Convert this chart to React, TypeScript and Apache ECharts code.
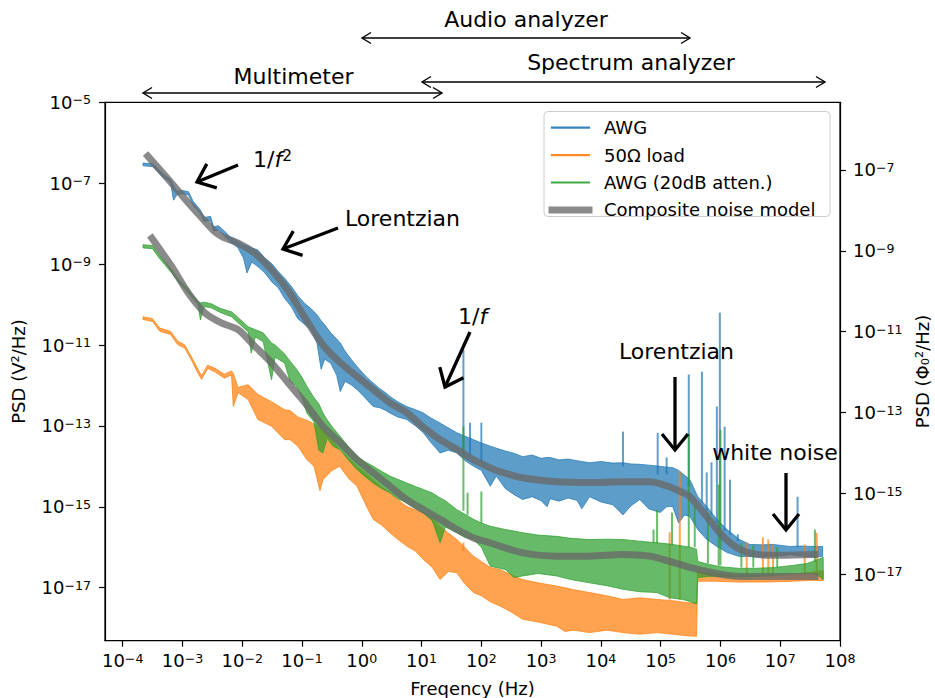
import React, { useEffect, useRef } from "react";
import * as echarts from "echarts";

const FONT = "DejaVu Sans";
const MINUS = "\u2212";

// Decade ticks (log10 of the plotted quantity)
const FREQ_TICKS = [-4, -3, -2, -1, 0, 1, 2, 3, 4, 5, 6, 7, 8];
const PSD_V_TICKS = [-17, -15, -13, -11, -9, -7, -5];
const PSD_PHI_TICKS = [-17, -15, -13, -11, -9, -7];

// Axis extents in decades
const FREQ_MIN = -4.296;
const FREQ_MAX = 8;
const PSD_V_MIN = -18.31;
const PSD_V_MAX = -5;
// log10 shift from V^2/Hz to Phi0^2/Hz
const PHI_SHIFT = -0.328;

// Measured spectra: [log10 f, upper log10 PSD, lower log10 PSD]
const AWG_BAND = [
  [-3.66, -6.5, -6.57], [-3.5, -6.52, -6.59], [-3.4, -6.66, -6.74], [-3.3, -6.8, -6.88],
  [-3.2, -6.9, -6.98], [-3.15, -7.05, -7.42], [-3.09, -7.2, -7.28], [-3.0, -7.18, -7.26],
  [-2.9, -7.21, -7.29], [-2.82, -7.45, -7.54], [-2.7, -7.66, -7.75], [-2.64, -7.85, -7.94],
  [-2.53, -7.82, -7.92], [-2.48, -8.08, -8.18], [-2.4, -8.05, -8.16], [-2.3, -8.18, -8.3],
  [-2.2, -8.33, -8.46], [-2.08, -8.42, -8.58], [-1.98, -8.52, -8.85], [-1.92, -8.55, -9.22],
  [-1.84, -8.6, -8.95], [-1.74, -8.65, -9.06], [-1.62, -8.85, -9.22], [-1.5, -9.0, -9.45],
  [-1.4, -9.18, -9.58], [-1.29, -9.35, -9.85], [-1.18, -9.55, -10.05], [-1.07, -9.78, -10.35],
  [-0.95, -9.98, -10.5], [-0.85, -10.1, -10.62], [-0.75, -10.25, -10.95], [-0.68, -10.4, -11.6],
  [-0.62, -10.5, -11.35], [-0.52, -10.7, -11.45], [-0.42, -10.85, -11.75], [-0.36, -10.95, -12.15],
  [-0.28, -11.15, -11.9], [-0.18, -11.35, -11.98], [-0.08, -11.53, -12.1], [0.02, -11.7, -12.25],
  [0.1, -11.82, -12.38], [0.19, -11.94, -12.52], [0.3, -12.08, -12.55], [0.4, -12.18, -12.62],
  [0.47, -12.27, -12.68], [0.6, -12.4, -12.78], [0.75, -12.52, -12.84], [0.9, -12.6, -13.0],
  [1.03, -12.68, -13.17], [1.15, -12.8, -13.4], [1.31, -12.93, -13.67], [1.45, -13.05, -13.6],
  [1.59, -13.17, -13.67], [1.72, -13.25, -13.85], [1.87, -13.34, -14.0], [2.0, -13.42, -14.1],
  [2.15, -13.5, -14.49], [2.25, -13.55, -14.24], [2.4, -13.62, -14.55], [2.55, -13.68, -14.7],
  [2.69, -13.76, -14.82], [2.85, -13.72, -14.75], [3.0, -13.8, -14.85], [3.1, -13.78, -15.0],
  [3.15, -13.78, -14.8], [3.3, -13.84, -14.86], [3.45, -13.82, -14.78], [3.6, -13.86, -14.84],
  [3.68, -13.88, -15.05], [3.81, -13.91, -14.75], [4.0, -13.88, -14.88], [4.2, -13.92, -14.95],
  [4.37, -13.91, -15.2], [4.5, -13.94, -14.98], [4.65, -13.95, -14.82], [4.8, -13.97, -15.05],
  [4.99, -14.0, -15.14], [5.1, -14.02, -15.0], [5.2, -14.03, -14.99], [5.3, -14.1, -15.4],
  [5.4, -14.22, -15.2], [5.49, -14.33, -15.24], [5.62, -14.75, -15.56], [5.77, -14.99, -15.81],
  [5.94, -15.31, -15.98], [6.11, -15.56, -16.13], [6.32, -15.81, -16.23], [6.49, -15.93, -16.23],
  [6.7, -15.94, -16.24], [6.88, -15.93, -16.23], [7.05, -15.96, -16.21], [7.16, -15.98, -16.18],
  [7.35, -15.97, -16.22], [7.55, -15.98, -16.24], [7.71, -15.98, -16.23],
];

const LOAD_BAND = [
  [-3.66, -10.3, -10.37], [-3.5, -10.35, -10.42], [-3.38, -10.58, -10.66], [-3.2, -10.66, -10.74],
  [-3.08, -10.9, -10.99], [-2.96, -11.0, -11.08], [-2.84, -11.32, -11.4], [-2.74, -11.6, -11.7],
  [-2.68, -11.76, -11.85], [-2.58, -11.5, -11.58], [-2.46, -11.57, -11.66], [-2.3, -11.72, -11.82],
  [-2.18, -11.64, -11.74], [-2.15, -11.7, -12.52], [-2.07, -12.05, -12.18], [-1.9, -11.98, -12.35],
  [-1.74, -12.22, -12.84], [-1.51, -12.4, -13.01], [-1.29, -12.6, -13.34], [-1.2, -12.62, -13.34],
  [-1.07, -12.78, -13.5], [-0.92, -12.86, -13.83], [-0.8, -12.95, -14.0], [-0.7, -13.05, -14.6],
  [-0.65, -13.09, -14.33], [-0.5, -13.35, -14.1], [-0.37, -13.59, -14.0], [-0.22, -13.8, -14.3],
  [-0.08, -14.0, -14.49], [0.05, -14.15, -14.9], [0.19, -14.33, -15.31], [0.33, -14.5, -15.45],
  [0.47, -14.65, -15.64], [0.6, -14.82, -15.8], [0.75, -14.99, -15.97], [0.9, -15.08, -16.1],
  [1.03, -15.15, -16.3], [1.18, -15.3, -16.5], [1.31, -15.48, -16.8], [1.45, -15.65, -16.6],
  [1.59, -15.81, -16.63], [1.72, -16.0, -16.9], [1.87, -16.22, -17.12], [2.0, -16.35, -17.2],
  [2.15, -16.5, -17.35], [2.31, -16.55, -17.45], [2.5, -16.68, -17.6], [2.69, -16.8, -17.78],
  [2.95, -16.88, -17.85], [3.26, -16.96, -17.95], [3.4, -17.0, -18.08], [3.55, -17.05, -18.05],
  [3.81, -17.12, -18.11], [4.1, -17.2, -18.05], [4.37, -17.29, -18.11], [4.65, -17.25, -18.15],
  [4.94, -17.29, -18.11], [5.2, -17.32, -18.15], [5.44, -17.37, -18.19], [5.6, -17.38, -18.2],
  [5.62, -16.6, -16.84], [5.9, -16.65, -16.84], [6.3, -16.7, -16.86], [6.8, -16.7, -16.86],
  [7.2, -16.68, -16.84], [7.5, -16.62, -16.82], [7.72, -16.58, -16.82],
];

const ATTEN_BAND = [
  [-3.66, -8.52, -8.6], [-3.5, -8.54, -8.62], [-3.4, -8.75, -8.83], [-3.3, -8.93, -9.01],
  [-3.18, -9.14, -9.22], [-3.05, -9.4, -9.48], [-2.9, -9.62, -9.72], [-2.82, -9.78, -9.86],
  [-2.74, -9.92, -10.0], [-2.7, -9.96, -10.38], [-2.64, -9.94, -10.05], [-2.52, -9.98, -10.08],
  [-2.36, -10.1, -10.2], [-2.18, -10.18, -10.3], [-2.07, -10.32, -10.45], [-1.9, -10.55, -10.68],
  [-1.85, -10.58, -11.2], [-1.78, -10.62, -10.8], [-1.65, -10.7, -10.92], [-1.51, -10.95, -11.86],
  [-1.45, -11.0, -11.3], [-1.29, -11.22, -11.45], [-1.2, -11.4, -11.9], [-1.1, -11.58, -12.0],
  [-1.0, -11.8, -12.3], [-0.92, -12.02, -12.68], [-0.8, -12.3, -12.9], [-0.72, -12.45, -13.6],
  [-0.65, -12.68, -13.67], [-0.58, -12.85, -13.3], [-0.48, -13.05, -13.5], [-0.36, -13.26, -13.59],
  [-0.22, -13.52, -13.85], [-0.08, -13.75, -14.08], [0.05, -13.88, -14.25], [0.19, -14.0, -14.41],
  [0.33, -14.12, -14.55], [0.47, -14.24, -14.65], [0.6, -14.32, -14.8], [0.75, -14.41, -14.9],
  [0.9, -14.5, -15.05], [1.03, -14.57, -15.15], [1.18, -14.66, -15.35], [1.31, -14.78, -15.89],
  [1.4, -14.85, -15.5], [1.59, -15.07, -15.64], [1.72, -15.18, -15.75], [1.87, -15.31, -15.81],
  [2.0, -15.4, -16.0], [2.15, -15.48, -16.47], [2.4, -15.56, -16.55], [2.55, -15.6, -16.75],
  [2.69, -15.64, -16.71], [2.95, -15.7, -16.65], [3.26, -15.73, -16.71], [3.5, -15.78, -16.8],
  [3.81, -15.81, -16.88], [4.1, -15.8, -16.95], [4.37, -15.81, -17.04], [4.65, -15.85, -17.1],
  [4.94, -15.89, -17.12], [5.15, -15.92, -17.25], [5.37, -15.97, -17.29], [5.5, -16.0, -17.35],
  [5.6, -16.05, -17.4], [5.62, -16.35, -16.75], [5.8, -16.42, -16.72], [6.0, -16.48, -16.72],
  [6.3, -16.52, -16.74], [6.6, -16.52, -16.72], [6.9, -16.5, -16.7], [7.2, -16.45, -16.66],
  [7.45, -16.4, -16.64], [7.6, -16.32, -16.66], [7.72, -16.25, -16.8],
];

// Narrow interference lines: [log10 f, floor, peak]
const AWG_SPIKES = [
  [1.7, -13.6, -11.12], [1.81, -13.7, -12.92], [2.0, -13.9, -12.92], [4.37, -14.0, -13.14],
  [4.95, -14.2, -13.17], [5.1, -14.2, -13.78], [5.47, -14.5, -11.73], [5.69, -14.9, -11.66],
  [5.77, -15.1, -14.15], [5.85, -15.2, -13.9], [5.94, -15.4, -12.52], [5.99, -15.5, -10.2],
  [6.07, -15.6, -13.02], [6.16, -15.7, -14.33], [6.29, -15.85, -15.68], [7.29, -16.0, -14.75],
];
const LOAD_SPIKES = [
  [1.7, -16.1, -15.88], [5.15, -17.3, -15.63], [5.32, -17.3, -14.12], [6.44, -16.7, -15.88],
  [6.71, -16.7, -15.76], [6.8, -16.7, -15.81], [6.88, -16.7, -15.93], [7.41, -16.65, -15.93],
  [7.61, -16.6, -15.64],
];
const ATTEN_SPIKES = [
  [1.7, -15.1, -13.01], [1.77, -15.2, -14.65], [2.0, -15.4, -14.62], [4.88, -15.9, -15.56],
  [4.94, -15.9, -15.07], [5.19, -15.95, -15.14], [5.47, -16.0, -13.2], [5.57, -16.0, -14.99],
  [5.79, -16.4, -15.14], [5.97, -16.45, -14.45], [6.0, -16.45, -13.1], [6.35, -16.5, -15.9],
  [6.55, -16.5, -15.95], [6.95, -16.5, -16.0], [7.58, -16.35, -15.56],
];

// Composite noise model curves: [log10 f, log10 PSD]
const MODEL_AWG = [
  [-3.58, -6.33], [-3.18, -7.0], [-2.9, -7.49], [-2.62, -7.95], [-2.46, -8.2], [-2.34, -8.32],
  [-2.07, -8.48], [-1.79, -8.73], [-1.51, -9.14], [-1.23, -9.66], [-0.95, -10.33], [-0.65, -11.0],
  [-0.36, -11.44], [-0.08, -11.78], [0.19, -12.1], [0.47, -12.43], [0.75, -12.67], [1.02, -13.02],
  [1.31, -13.34], [1.59, -13.58], [1.86, -13.83], [2.14, -14.03], [2.31, -14.13], [2.69, -14.28],
  [3.26, -14.38], [3.81, -14.4], [4.37, -14.38], [4.82, -14.38], [5.1, -14.48], [5.37, -14.65],
  [5.49, -14.75], [5.77, -15.24], [6.04, -15.73], [6.32, -16.05], [6.61, -16.18], [7.0, -16.2],
  [7.58, -16.18],
];
const MODEL_ATTEN = [
  [-3.51, -8.36], [-3.18, -9.06], [-2.9, -9.72], [-2.62, -10.21], [-2.34, -10.46], [-2.07, -10.62],
  [-1.79, -11.03], [-1.51, -11.44], [-1.23, -11.94], [-0.95, -12.43], [-0.65, -13.01], [-0.36, -13.42],
  [-0.08, -13.83], [0.19, -14.16], [0.47, -14.49], [0.75, -14.82], [1.03, -15.07], [1.31, -15.31],
  [1.59, -15.56], [1.87, -15.77], [2.15, -15.89], [2.31, -15.97], [2.7, -16.14], [3.26, -16.22],
  [3.81, -16.22], [4.37, -16.18], [4.82, -16.22], [5.15, -16.35], [5.49, -16.5], [5.77, -16.6],
  [6.05, -16.68], [6.32, -16.72], [7.58, -16.72],
];

const BLUE = "#1f77b4";
const ORANGE = "#ff7f0e";
const GREEN = "#2ca02c";
const MODEL_COLOR = "rgba(105,105,105,0.78)";

const LEGEND = [
  { name: "AWG", color: BLUE, width: 2.2 },
  { name: "50\u03a9 load", color: ORANGE, width: 2.2 },
  { name: "AWG (20dB atten.)", color: GREEN, width: 2.2 },
  { name: "Composite noise model", color: MODEL_COLOR, width: 7 },
];

const rgba = (hex: string, a: number) => {
  const n = parseInt(hex.slice(1), 16);
  return `rgba(${(n >> 16) & 255},${(n >> 8) & 255},${n & 255},${a})`;
};

const powerLabel = (v: number) => `{b|10}{s|${v < 0 ? MINUS + -v : v}}`;

const TICK_RICH = {
  b: { fontFamily: FONT, fontSize: 18, lineHeight: 18, color: "#000" },
  s: { fontFamily: FONT, fontSize: 12.6, lineHeight: 12.6, color: "#000", verticalAlign: "top" },
};

function bandSeries(band: number[][], color: string) {
  return {
    type: "custom",
    coordinateSystem: "cartesian2d",
    xAxisIndex: 0,
    yAxisIndex: 0,
    clip: true,
    silent: true,
    data: [[band[0][0], band[0][1]]],
    renderItem: (_p: any, api: any) => {
      const upper = band.map((r) => api.coord([r[0], r[1]]));
      const lower = band
        .slice()
        .reverse()
        .map((r) => api.coord([r[0], r[2]]));
      return {
        type: "polygon",
        shape: { points: upper.concat(lower) },
        style: { fill: rgba(color, 0.72), stroke: rgba(color, 0.72), lineWidth: 1 },
      };
    },
  };
}

function spikeSeries(spikes: number[][], color: string) {
  return {
    type: "custom",
    coordinateSystem: "cartesian2d",
    xAxisIndex: 0,
    yAxisIndex: 0,
    clip: true,
    silent: true,
    data: spikes,
    encode: { x: 0, y: [1, 2] },
    renderItem: (_p: any, api: any) => {
      const a = api.coord([api.value(0), api.value(1)]);
      const b = api.coord([api.value(0), api.value(2)]);
      return {
        type: "line",
        shape: { x1: a[0], y1: a[1], x2: b[0], y2: b[1] },
        style: { stroke: rgba(color, 0.7), lineWidth: 2 },
      };
    },
  };
}

function modelSeries(points: number[][]) {
  return {
    type: "line",
    data: points,
    xAxisIndex: 0,
    yAxisIndex: 0,
    symbol: "none",
    smooth: 0.3,
    silent: true,
    clip: true,
    lineStyle: { color: MODEL_COLOR, width: 7, cap: "square", join: "round" },
  };
}

const txt = (text: string, x: number, y: number, size: number, align = "center", extra: any = {}) => ({
  type: "text",
  x,
  y,
  z: 120,
  silent: true,
  ...extra,
  style: {
    text,
    fill: "#000",
    fontFamily: FONT,
    fontSize: size,
    align,
    textAlign: align,
    verticalAlign: "middle",
    textVerticalAlign: "middle",
  },
});

// Thick annotation arrow with an open head at the tip
function pointer(tail: number[], tip: number[]) {
  const dx = tail[0] - tip[0];
  const dy = tail[1] - tip[1];
  const len = Math.hypot(dx, dy);
  const ux = dx / len;
  const uy = dy / len;
  const L = 16;
  const W = 13;
  const style = { stroke: "#000", lineWidth: 3.3, fill: null };
  return [
    { type: "line", z: 120, silent: true, shape: { x1: tail[0], y1: tail[1], x2: tip[0], y2: tip[1] }, style },
    {
      type: "polyline",
      z: 120,
      silent: true,
      shape: {
        points: [
          [tip[0] + L * ux - W * uy, tip[1] + L * uy + W * ux],
          [tip[0], tip[1]],
          [tip[0] + L * ux + W * uy, tip[1] + L * uy - W * ux],
        ],
      },
      style,
    },
  ];
}

// Thin double-headed range arrow
function span(x1: number, x2: number, y: number) {
  const L = 9;
  const W = 5.5;
  const style = { stroke: "#000", lineWidth: 1.4, fill: null };
  return [
    { type: "line", z: 120, silent: true, shape: { x1, y1: y, x2, y2: y }, style },
    { type: "polyline", z: 120, silent: true, shape: { points: [[x1 + L, y - W], [x1, y], [x1 + L, y + W]] }, style },
    { type: "polyline", z: 120, silent: true, shape: { points: [[x2 - L, y - W], [x2, y], [x2 - L, y + W]] }, style },
  ];
}

function buildGraphics() {
  const g: any[] = [];
  // instrument ranges above the plot
  g.push(...span(362, 690, 38), txt("Audio analyzer", 526, 19.5, 22));
  g.push(...span(422, 825, 82), txt("Spectrum analyzer", 631, 62.5, 22));
  g.push(...span(143, 442, 93), txt("Multimeter", 293.5, 76.5, 22));

  // feature call-outs
  g.push(...pointer([238, 165], [197, 182]));
  g.push({
    type: "text",
    x: 253,
    y: 159,
    z: 120,
    silent: true,
    style: {
      text: "{n|1/}{i|f}{p|2}",
      fill: "#000",
      align: "left",
      textAlign: "left",
      verticalAlign: "middle",
      textVerticalAlign: "middle",
      rich: {
        n: { fontFamily: FONT, fontSize: 22, lineHeight: 22 },
        i: { fontFamily: FONT, fontSize: 22, lineHeight: 22, fontStyle: "italic" },
        p: { fontFamily: FONT, fontSize: 15.4, lineHeight: 15.4, verticalAlign: "top" },
      },
    },
  });
  g.push(...pointer([338, 228], [283, 249]), txt("Lorentzian", 402.5, 218.5, 22));
  g.push(...pointer([470, 332], [445, 387]));
  g.push({
    type: "text",
    x: 458,
    y: 316,
    z: 120,
    silent: true,
    style: {
      text: "{n|1/}{i|f}",
      fill: "#000",
      align: "left",
      textAlign: "left",
      verticalAlign: "middle",
      textVerticalAlign: "middle",
      rich: {
        n: { fontFamily: FONT, fontSize: 22, lineHeight: 22 },
        i: { fontFamily: FONT, fontSize: 22, lineHeight: 22, fontStyle: "italic" },
      },
    },
  });
  g.push(...pointer([675, 377], [675, 450]), txt("Lorentzian", 676.5, 351.5, 22));
  g.push(...pointer([786, 473], [786, 530]), txt("white noise", 775, 452.5, 22));

  // legend
  g.push({
    type: "rect",
    z: 110,
    silent: true,
    shape: { x: 544, y: 111.5, width: 286, height: 105, r: 4 },
    style: { fill: "rgba(255,255,255,0.8)", stroke: "#cccccc", lineWidth: 1 },
  });
  LEGEND.forEach((item, i) => {
    const y = 127.7 + i * 27.4;
    const pad = item.width / 2;
    g.push({
      type: "line",
      z: 115,
      silent: true,
      shape: { x1: 552 - pad, y1: y, x2: 589 + pad, y2: y },
      style: { stroke: item.width > 3 ? item.color : rgba(item.color, 0.9), lineWidth: item.width },
    });
    g.push(txt(item.name, 604, y, 18, "left"));
  });

  // axis titles
  g.push(txt("Freqency (Hz)", 472.5, 688.5, 18));
  g.push(txt("PSD (V\u00b2/Hz)", 18.5, 371.5, 18, "center", { rotation: Math.PI / 2 }));
  g.push(txt("PSD (\u03a6\u2080\u00b2/Hz)", 922.5, 371.5, 18, "center", { rotation: Math.PI / 2 }));
  return g;
}

function buildOption() {
  const tick = { show: true, length: 6, lineStyle: { color: "#000", width: 1.2 } };
  const line = { show: true, onZero: false, lineStyle: { color: "#000", width: 1.2 } };
  return {
    animation: false,
    backgroundColor: "#fff",
    grid: {
      left: 105,
      top: 102.3,
      width: 735,
      height: 538.4,
      show: true,
      borderColor: "#000",
      borderWidth: 1.2,
      backgroundColor: "transparent",
      containLabel: false,
    },
    xAxis: {
      type: "value",
      min: FREQ_MIN,
      max: FREQ_MAX,
      position: "bottom",
      axisLine: line,
      axisTick: { ...tick, customValues: FREQ_TICKS },
      axisLabel: {
        customValues: FREQ_TICKS,
        formatter: powerLabel,
        margin: 11,
        fontFamily: FONT,
        rich: TICK_RICH,
      },
      splitLine: { show: false },
    },
    yAxis: [
      {
        type: "value",
        min: PSD_V_MIN,
        max: PSD_V_MAX,
        position: "left",
        axisLine: line,
        axisTick: { ...tick, customValues: PSD_V_TICKS },
        axisLabel: {
          customValues: PSD_V_TICKS,
          formatter: powerLabel,
          margin: 14,
          fontFamily: FONT,
          rich: TICK_RICH,
        },
        splitLine: { show: false },
      },
      {
        type: "value",
        min: PSD_V_MIN + PHI_SHIFT,
        max: PSD_V_MAX + PHI_SHIFT,
        position: "right",
        axisLine: line,
        axisTick: { ...tick, customValues: PSD_PHI_TICKS },
        axisLabel: {
          customValues: PSD_PHI_TICKS,
          formatter: powerLabel,
          margin: 13,
          fontFamily: FONT,
          rich: TICK_RICH,
        },
        splitLine: { show: false },
      },
    ],
    series: [
      bandSeries(AWG_BAND, BLUE),
      spikeSeries(AWG_SPIKES, BLUE),
      bandSeries(LOAD_BAND, ORANGE),
      spikeSeries(LOAD_SPIKES, ORANGE),
      bandSeries(ATTEN_BAND, GREEN),
      spikeSeries(ATTEN_SPIKES, GREEN),
      modelSeries(MODEL_AWG),
      modelSeries(MODEL_ATTEN),
    ],
    graphic: buildGraphics(),
  };
}

export default function App() {
  const ref = useRef<HTMLDivElement>(null);
  useEffect(() => {
    if (!ref.current) return;
    const chart = echarts.init(ref.current, null, { renderer: "svg" });
    chart.setOption(buildOption() as any);
    return () => chart.dispose();
  }, []);
  return (
    <div
      ref={ref}
      style={{ position: "absolute", left: 0, top: 0, width: 935, height: 698, background: "#fff" }}
    />
  );
}
